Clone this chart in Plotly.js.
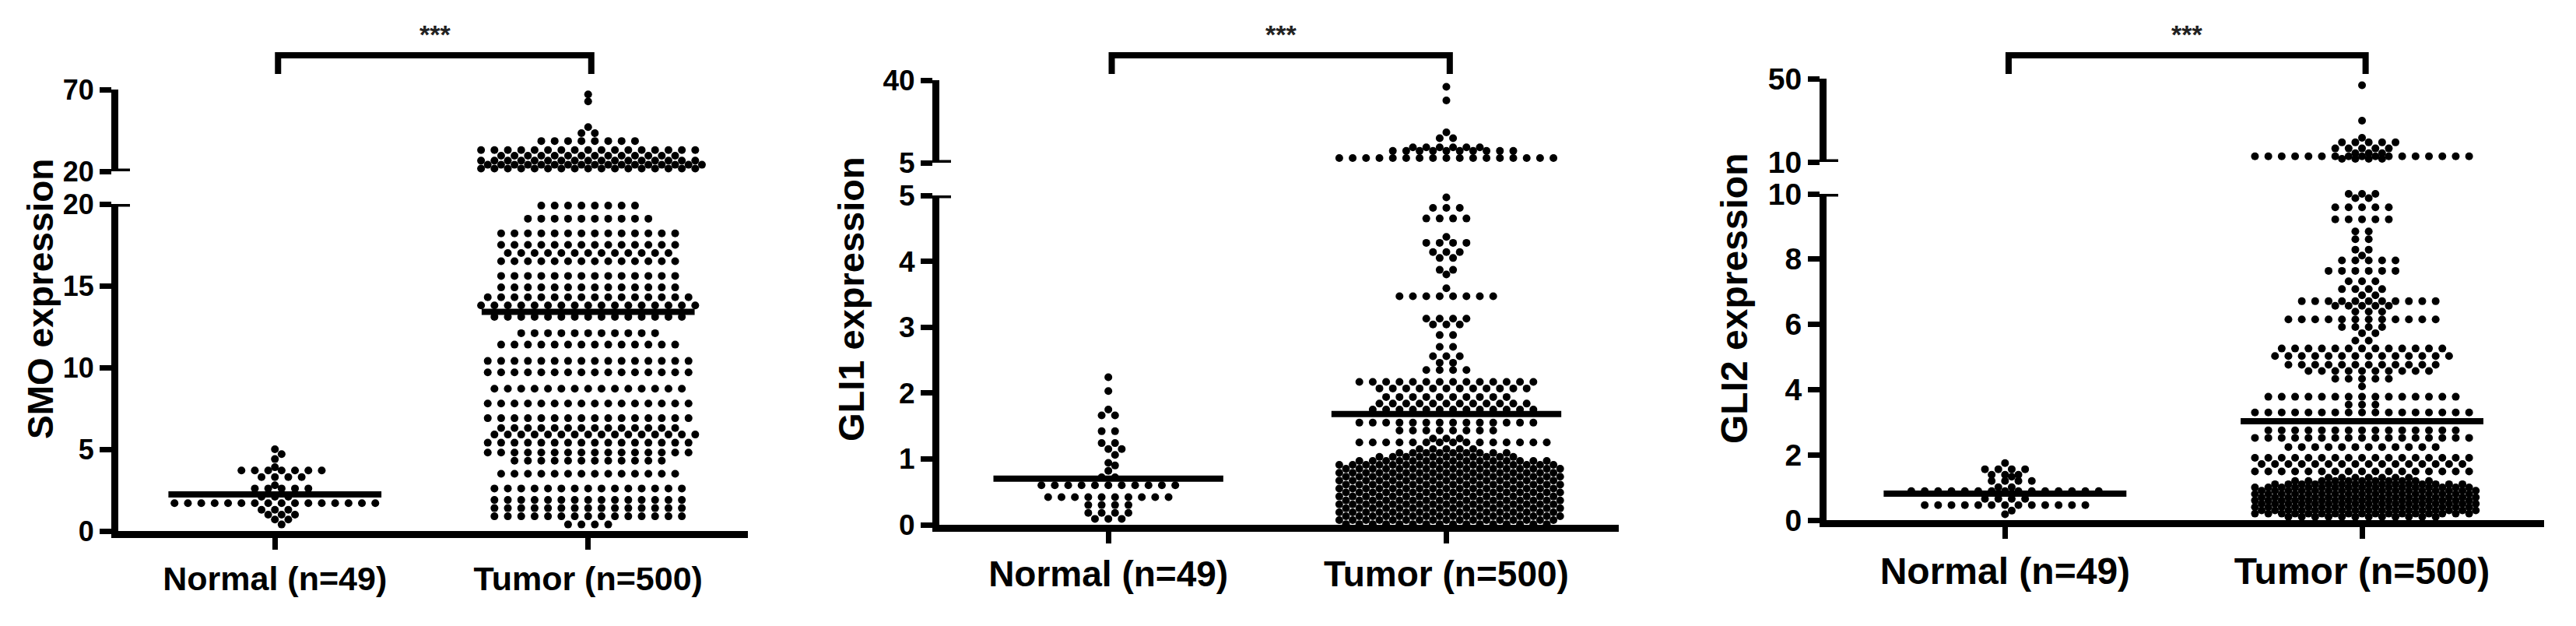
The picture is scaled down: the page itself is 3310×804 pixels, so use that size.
<!DOCTYPE html>
<html>
<head>
<meta charset="utf-8">
<script src="https://cdn.plot.ly/plotly-3.0.1.min.js"></script>
<style>html, body { margin: 0; padding: 0; background: #fff; }</style>
</head>
<body>
<div id="chart" style="width:3310px;height:804px"></div>
<script>
// categories
const groups = ['Normal (n=49)', 'Tumor (n=500)'];

// SMO: dot rows (value, number of dots at that value)
const smoNormalValues = [5.0, 4.7, 4.4, 3.9, 3.7, 3.3, 2.8, 2.6, 2.1, 1.7, 1.3, 1.0, 0.7, 0.4];
const smoNormalCounts = [1, 1, 1, 1, 7, 4, 1, 5, 3, 16, 3, 3, 2, 1];
const smoTumorValues = [67, 62.7, 47, 43.3, 38.5, 33, 29.5, 26.5, 24, 21.7,
  19.9, 19.1, 18.2, 17.5, 17.0, 16.5, 15.6, 14.9, 14.3, 13.8, 13.1, 12.1, 11.4, 10.4, 9.7,
  8.7, 7.8, 6.9, 6.3, 5.9, 5.4, 4.8, 4.3, 3.5, 2.6, 1.9, 1.4, 0.9, 0.4];
const smoTumorCounts = [1, 1, 1, 2, 8, 17, 14, 17, 17, 17,
  8, 10, 14, 14, 13, 14, 14, 14, 16, 17, 15, 11, 14, 16, 16,
  15, 16, 16, 14, 16, 16, 16, 12, 14, 15, 15, 15, 15, 4];
const smoMeans = [2.24, 13.4];
const smoLowTicks = [0, 5, 10, 15, 20];
const smoHighTicks = [20, 70];

// GLI1
const gli1NormalValues = [2.24, 2.03, 1.75, 1.66, 1.42, 1.24, 1.15, 1.06, 0.94, 0.90, 0.82, 0.72, 0.60, 0.42, 0.30, 0.18, 0.09];
const gli1NormalCounts = [1, 1, 1, 2, 2, 2, 2, 1, 1, 1, 1, 2, 11, 10, 4, 4, 3];
const gli1TumorValues = [37.2, 31.4, 17.9, 15.4, 11.5, 10, 7.0,
  4.97, 4.81, 4.65, 4.37, 4.28, 4.14, 4.05, 3.87, 3.80, 3.59, 3.47, 3.13, 3.04, 2.88, 2.70,
  2.56, 2.46, 2.35, 2.17, 2.07, 1.94, 1.84, 1.75, 1.55, 1.43, 1.31, 1.25,
  1.15, 1.09, 1.03, 0.97, 0.91, 0.85, 0.79, 0.73, 0.67, 0.61, 0.55, 0.49, 0.43, 0.37,
  0.31, 0.25, 0.19, 0.13, 0.07, 0.01];
const gli1TumorCounts = [1, 1, 1, 2, 6, 10, 17,
  1, 3, 4, 1, 4, 3, 2, 2, 1, 1, 8, 4, 3, 2, 2,
  3, 2, 4, 14, 12, 10, 12, 13, 14, 8, 3, 15,
  5, 9, 11, 15, 17, 17, 17, 17, 17, 17, 17, 17, 17, 17,
  17, 17, 17, 17, 17, 16];
const gli1Means = [0.70, 1.68];
const gli1LowTicks = [0, 1, 2, 3, 4, 5];
const gli1HighTicks = [5, 40];

// GLI2
const gli2NormalValues = [1.75, 1.56, 1.39, 1.33, 1.2, 1.01, 0.89, 0.65, 0.46, 0.29, 0.18];
const gli2NormalCounts = [1, 4, 3, 1, 4, 2, 15, 4, 13, 1, 1];
const gli2TumorValues = [46.8, 29.8, 21.6, 19.4, 16.5, 14.2, 12.7, 11.5,
  10.0, 9.87, 9.59, 9.22, 8.85, 8.61, 8.29, 8.11, 7.96, 7.64, 7.32, 7.08, 6.89, 6.71,
  6.57, 6.39, 6.15, 5.92, 5.73, 5.50, 5.26, 5.03, 4.76, 4.57, 4.33, 4.10, 3.78, 3.54,
  3.30, 2.75, 2.52, 2.24, 1.91, 1.72, 1.49,
  1.3, 1.2, 1.1, 1.0, 0.9, 0.8, 0.7, 0.6, 0.5, 0.4, 0.3, 0.2, 0.1];
const gli2TumorCounts = [1, 1, 1, 5, 5, 3, 17, 4,
  3, 2, 5, 5, 2, 2, 2, 1, 5, 6, 3, 4, 2, 11,
  5, 3, 12, 4, 2, 2, 13, 14, 12, 10, 5, 1, 15, 3,
  17, 15, 17, 12, 17, 16, 17,
  7, 11, 15, 17, 17, 17, 17, 17, 17, 17, 17, 17, 12];
const gli2Means = [0.81, 3.03];
const gli2LowTicks = [0, 2, 4, 6, 8, 10];
const gli2HighTicks = [10, 50];

const W = 3310, H = 804;
const FONT = 'Liberation Sans, Arial, sans-serif';
const XR = [0.5, 2.51];
const fx = px => px / W;
const fy = px => 1 - px / H;

// page geometry of each panel, in pixels
const panels = [
  { title: 'SMO expression', normal: [smoNormalValues, smoNormalCounts], tumor: [smoTumorValues, smoTumorCounts],
    means: smoMeans, low: smoLowTicks, high: smoHighTicks,
    x0: 152, x1: 961, lowPx: [682, 262], highPx: [220, 115], titleX: 52, tickSize: 36, catSize: 43, titleSize: 46 },
  { title: 'GLI1 expression', normal: [gli1NormalValues, gli1NormalCounts], tumor: [gli1TumorValues, gli1TumorCounts],
    means: gli1Means, low: gli1LowTicks, high: gli1HighTicks,
    x0: 1207, x1: 2080, lowPx: [674, 251], highPx: [209, 103], titleX: 1093, tickSize: 37, catSize: 46, titleSize: 47 },
  { title: 'GLI2 expression', normal: [gli2NormalValues, gli2NormalCounts], tumor: [gli2TumorValues, gli2TumorCounts],
    means: gli2Means, low: gli2LowTicks, high: gli2HighTicks,
    x0: 2347, x1: 3269, lowPx: [668, 249], highPx: [208, 101], titleX: 2228, tickSize: 39, catSize: 48, titleSize: 48 }
];

const data = [];
const layout = {
  width: W, height: H,
  margin: { l: 0, r: 0, t: 0, b: 0 },
  paper_bgcolor: '#fff', plot_bgcolor: 'rgba(0,0,0,0)',
  showlegend: false,
  shapes: [], annotations: []
};

// lay out one group as rows of dots, staggering rows that touch
function swarm(values, counts, center, p) {
  const lowTop = p.low[p.low.length - 1];
  const lowScale = (p.lowPx[0] - p.lowPx[1]) / (lowTop - p.low[0]);
  const highScale = (p.highPx[0] - p.highPx[1]) / (p.high[p.high.length - 1] - p.high[0]);
  const sp = 17.2 / ((p.x1 - p.x0) / (XR[1] - XR[0]));
  const low = { x: [], y: [] }, high = { x: [], y: [] };
  let prevPy = null, prevPhase = null;
  values.forEach((v, i) => {
    const n = counts[i];
    const isHigh = v > lowTop;
    const py = isHigh ? p.highPx[0] - (v - p.high[0]) * highScale : p.lowPx[0] - (v - p.low[0]) * lowScale;
    let phase = n % 2 ? 0 : 0.5;
    let shift = 0;
    if (prevPy !== null && Math.abs(py - prevPy) < 8.5 && phase === prevPhase) {
      shift = 0.5;
      phase = 0.5 - phase;
    }
    const dest = isHigh ? high : low;
    for (let k = 0; k < n; k++) {
      dest.x.push(center + (k - (n - 1) / 2 + shift) * sp);
      dest.y.push(v);
    }
    prevPy = py;
    prevPhase = phase;
  });
  return { low, high };
}

panels.forEach((p, idx) => {
  const xId = idx === 0 ? 'x' : 'x' + (idx + 1);
  const yLow = idx === 0 ? 'y' : 'y' + (2 * idx + 1);
  const yHigh = 'y' + (2 * idx + 2);
  const axFont = size => ({ family: FONT, size: size, color: '#000', weight: 'bold' });
  const common = {
    showgrid: false, zeroline: false, showline: true, linewidth: 9, linecolor: '#000',
    ticks: 'outside', ticklen: 15, tickwidth: 7, tickcolor: '#000', fixedrange: true
  };

  layout['xaxis' + (idx === 0 ? '' : idx + 1)] = Object.assign({}, common, {
    domain: [fx(p.x0), fx(p.x1)], range: XR, anchor: yLow,
    tickvals: [1, 2], ticktext: groups, tickfont: axFont(p.catSize)
  });
  layout['yaxis' + (idx === 0 ? '' : 2 * idx + 1)] = Object.assign({}, common, {
    domain: [fy(p.lowPx[0]), fy(p.lowPx[1])], range: [p.low[0], p.low[p.low.length - 1]],
    anchor: xId, tickvals: p.low, tickfont: axFont(p.tickSize)
  });
  layout['yaxis' + (2 * idx + 2)] = Object.assign({}, common, {
    domain: [fy(p.highPx[0]), fy(p.highPx[1])], range: [p.high[0], p.high[p.high.length - 1]],
    anchor: xId, tickvals: p.high, tickfont: axFont(p.tickSize)
  });

  [p.normal, p.tumor].forEach((g, gi) => {
    const s = swarm(g[0], g[1], gi + 1, p);
    const marker = { color: '#000', size: 10 };
    data.push({ type: 'scatter', mode: 'markers', x: s.low.x, y: s.low.y, xaxis: xId, yaxis: yLow,
      marker: marker, cliponaxis: false, hoverinfo: 'skip' });
    if (s.high.x.length) {
      data.push({ type: 'scatter', mode: 'markers', x: s.high.x, y: s.high.y, xaxis: xId, yaxis: yHigh,
        marker: marker, cliponaxis: false, hoverinfo: 'skip' });
    }
    // mean line
    data.push({ type: 'scatter', mode: 'lines', x: [gi + 1 - 0.34, gi + 1 + 0.34], y: [p.means[gi], p.means[gi]],
      xaxis: xId, yaxis: yLow, line: { color: '#000', width: 8 }, cliponaxis: false, hoverinfo: 'skip' });
  });

  // axis break marks
  const brk = p.low[p.low.length - 1];
  layout.shapes.push(
    { type: 'line', xref: 'paper', yref: yLow, x0: fx(p.x0), x1: fx(p.x0 + 15), y0: brk, y1: brk,
      line: { color: '#000', width: 7 } },
    { type: 'line', xref: 'paper', yref: yHigh, x0: fx(p.x0), x1: fx(p.x0 + 15), y0: p.high[0], y1: p.high[0],
      line: { color: '#000', width: 7 } }
  );

  // significance bracket
  layout.shapes.push({
    type: 'path', xref: xId, yref: 'paper',
    path: `M 1.01,${fy(95)} L 1.01,${fy(71)} L 2.01,${fy(71)} L 2.01,${fy(95)}`,
    line: { color: '#000', width: 8 }
  });
  layout.annotations.push({
    xref: xId, yref: 'paper', x: 1.51, y: fy(44), text: '***', showarrow: false,
    font: { family: FONT, size: 34, color: '#222', weight: 'bold' }, xanchor: 'center', yanchor: 'middle'
  });

  // y axis title
  layout.annotations.push({
    xref: 'paper', yref: 'paper', x: fx(p.titleX), y: fy(384), text: p.title, textangle: -90,
    showarrow: false, xanchor: 'center', yanchor: 'middle',
    font: { family: FONT, size: p.titleSize, color: '#000', weight: 'bold' }
  });
});

Plotly.newPlot('chart', data, layout, { staticPlot: true });
</script>
</body>
</html>
